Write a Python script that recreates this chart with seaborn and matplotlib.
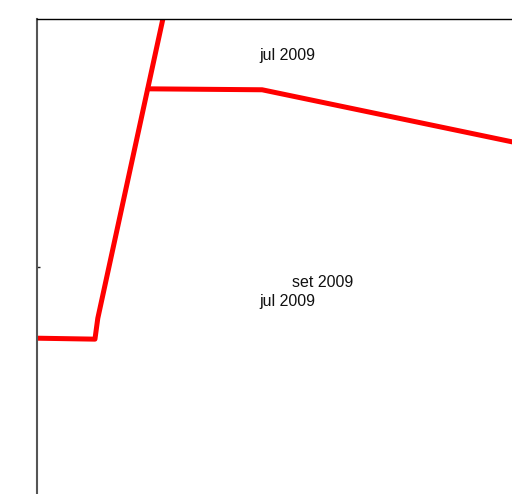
import matplotlib
matplotlib.use("Agg")
import matplotlib.pyplot as plt
import seaborn as sns
import pandas as pd

# valori (unità arbitrarie, assi 0-10)
serie_a_x = [0.0, 1.22, 1.28, 2.80]
serie_a_y = [3.28, 3.26, 3.70, 10.69]
serie_b_x = [2.34, 4.74, 10.5]
serie_b_y = [8.53, 8.51, 7.31]

etichette = ["jul 2009", "set 2009", "jul 2009"]
etichette_x = [5.28, 6.02, 5.28]
etichette_y = [9.24, 4.46, 4.06]

df = pd.DataFrame({
    "x": serie_a_x + serie_b_x,
    "y": serie_a_y + serie_b_y,
    "serie": ["a"] * len(serie_a_x) + ["b"] * len(serie_b_x),
})

sns.set_theme(style="white")
plt.rcParams["font.family"] = ["Liberation Sans", "DejaVu Sans"]

fig = plt.figure(figsize=(5.12, 4.94), dpi=100)
ax = fig.add_axes([37 / 512, 0, 475 / 512, 475 / 494])

sns.lineplot(data=df, x="x", y="y", hue="serie", palette=["#ff0000", "#ff0000"],
             sort=False, estimator=None, linewidth=3.6, legend=False, ax=ax,
             solid_joinstyle="round")

for testo, tx, ty in zip(etichette, etichette_x, etichette_y):
    ax.text(tx, ty, testo, ha="center", va="center", fontsize=11.5, color="#111111")

ax.set_xlim(0, 10)
ax.set_ylim(0, 10)
ax.set_xlabel("")
ax.set_ylabel("")
ax.set_xticks([])
ax.set_yticks([4.78])
ax.set_yticklabels([""])
ax.tick_params(axis="y", direction="in", length=2, width=1, color="#222222", left=True)
for lato in ["right", "bottom"]:
    ax.spines[lato].set_visible(False)
ax.spines["top"].set_color("#000000")
ax.spines["left"].set_color("#555555")
ax.spines["top"].set_linewidth(1.0)
ax.spines["left"].set_linewidth(1.5)

fig.savefig("out.png", dpi=100)
